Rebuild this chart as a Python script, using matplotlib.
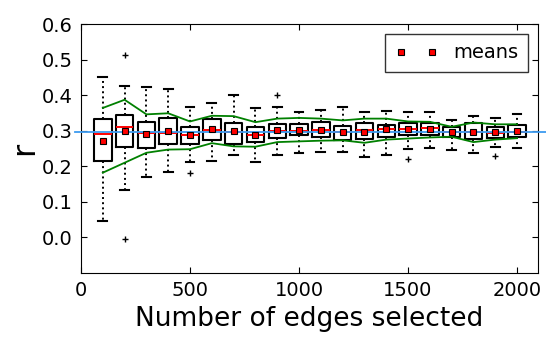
import matplotlib
matplotlib.use("Agg")
import matplotlib.pyplot as plt

positions = [100, 200, 300, 400, 500, 600, 700, 800, 900, 1000,
             1100, 1200, 1300, 1400, 1500, 1600, 1700, 1800, 1900, 2000]
whislo = [0.046, 0.133, 0.169, 0.183, 0.211, 0.215, 0.233, 0.213, 0.232, 0.238,
          0.241, 0.241, 0.225, 0.233, 0.249, 0.252, 0.245, 0.236, 0.254, 0.252]
q1 = [0.216, 0.255, 0.252, 0.264, 0.264, 0.275, 0.263, 0.269, 0.280, 0.288,
      0.282, 0.274, 0.278, 0.281, 0.288, 0.289, 0.282, 0.276, 0.279, 0.283]
med = [0.291, 0.310, 0.293, 0.293, 0.288, 0.302, 0.297, 0.288, 0.300, 0.299,
       0.301, 0.296, 0.303, 0.304, 0.305, 0.307, 0.296, 0.295, 0.294, 0.297]
q3 = [0.333, 0.345, 0.325, 0.336, 0.311, 0.333, 0.321, 0.311, 0.320, 0.320,
      0.324, 0.314, 0.321, 0.317, 0.322, 0.323, 0.311, 0.321, 0.311, 0.315]
whishi = [0.450, 0.426, 0.422, 0.416, 0.367, 0.379, 0.400, 0.363, 0.366, 0.352,
          0.358, 0.367, 0.354, 0.355, 0.352, 0.354, 0.331, 0.342, 0.337, 0.347]
means = [0.272, 0.298, 0.291, 0.298, 0.287, 0.304, 0.298, 0.288, 0.302, 0.301,
         0.302, 0.296, 0.297, 0.304, 0.304, 0.306, 0.296, 0.296, 0.295, 0.298]
fliers = [[], [0.512, -0.004], [], [], [0.181], [], [], [], [0.399], [],
          [], [], [], [], [0.221], [], [], [], [0.230], []]
upper = [0.364, 0.387, 0.346, 0.349, 0.326, 0.342, 0.341, 0.324, 0.334, 0.336,
         0.334, 0.329, 0.334, 0.334, 0.326, 0.325, 0.311, 0.323, 0.318, 0.318]
lower = [0.182, 0.210, 0.238, 0.247, 0.248, 0.265, 0.256, 0.255, 0.268, 0.270,
         0.272, 0.273, 0.266, 0.275, 0.278, 0.281, 0.283, 0.268, 0.275, 0.279]
ref_r = 0.297
xticks = [0, 500, 1000, 1500, 2000]
yticks = [0.0, 0.1, 0.2, 0.3, 0.4, 0.5, 0.6]

fig = plt.figure(figsize=(5.46, 3.37), dpi=100)
ax = fig.add_axes([81/546, 1-273/337, (538-81)/546, (273-24)/337])

stats = []
for i in range(len(positions)):
    stats.append(dict(whislo=whislo[i], q1=q1[i], med=med[i], q3=q3[i],
                      whishi=whishi[i], mean=means[i], fliers=fliers[i]))

ax.bxp(stats, positions=positions, widths=80, showmeans=False,
       boxprops=dict(color='black', linewidth=1.5),
       whiskerprops=dict(color='black', linestyle=':', linewidth=1.4),
       capprops=dict(color='black', linewidth=1.5),
       medianprops=dict(color='red', linewidth=1.4),
       flierprops=dict(marker='+', markeredgecolor='black', markersize=5,
                       linestyle='none'),
       manage_ticks=False)

ax.plot(positions, upper, color='green', lw=1.3, zorder=3)
ax.plot(positions, lower, color='green', lw=1.3, zorder=3)
ax.plot([-28, 2150], [ref_r, ref_r], color='#3d9bf0', lw=1.3, zorder=4,
        clip_on=False)
ax.plot(positions, means, linestyle='none', marker='s', markersize=5,
        markerfacecolor='red', markeredgecolor='black', markeredgewidth=0.8,
        zorder=5, label='means')

ax.set_xlim(0, 2096)
ax.set_ylim(-0.1, 0.6)
ax.set_xticks(xticks)
ax.set_yticks(yticks)
ax.tick_params(direction='in', top=True, right=True, labelsize=14, length=4,
               pad=6)
ax.set_xlabel('Number of edges selected', fontsize=19)
ax.set_ylabel('r', fontsize=23, labelpad=1)
leg = ax.legend(loc='upper right', numpoints=2, fontsize=14, fancybox=False,
                frameon=True, borderpad=0.5, handlelength=2.2)
leg.get_frame().set_edgecolor('black')
leg.get_frame().set_linewidth(1.0)

fig.savefig('out.png', dpi=100)
